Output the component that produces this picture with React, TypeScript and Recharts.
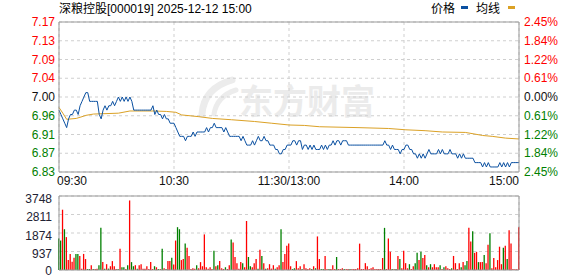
import React from "react";
import {
  ComposedChart,
  Line,
  Bar,
  XAxis,
  YAxis,
  CartesianGrid,
  Cell,
  ReferenceLine,
} from "recharts";

const FONT = "'Liberation Sans', Arial, 'Noto Sans CJK SC', sans-serif";

const title = "深粮控股[000019] 2025-12-12 15:00";
const legendNames = ["价格", "均线"];
const watermarkText = "东方财富";

const timeTicks = [0, 60, 120, 180, 240];
const timeLabels = ["09:30", "10:30", "11:30/13:00", "14:00", "15:00"];

const priceTicks = [7.1715, 7.128625, 7.08575, 7.042875, 7.0, 6.957125, 6.91425, 6.871375, 6.8285];
const priceLabels = ["7.17", "7.13", "7.09", "7.04", "7.00", "6.96", "6.91", "6.87", "6.83"];
const pctLabels = ["2.45%", "1.84%", "1.22%", "0.61%", "0.00%", "0.61%", "1.22%", "1.84%", "2.45%"];
const volTicks = [0, 937, 1874, 2811, 3748];
const volLabels = ["0", "937", "1874", "2811", "3748"];

// price per minute, 09:30 - 10:30 (61 points)
const prices0930 = [
  6.97, 6.96, 6.95, 6.94, 6.93, 6.95, 6.96, 6.96, 6.97, 6.97,
  6.96, 6.98, 6.99, 7.0, 7.01, 7.01, 6.99, 6.99, 6.99, 6.99,
  6.99, 6.96, 6.95, 6.97, 6.98, 6.97, 6.98, 6.98, 6.99, 6.98,
  6.99, 7.0, 6.99, 7.0, 6.99, 7.0, 6.99, 7.0, 6.99, 6.97,
  6.97, 6.97, 6.97, 6.97, 6.97, 6.97, 6.97, 6.97, 6.97, 6.98,
  6.96, 6.97, 6.96, 6.96, 6.95, 6.96, 6.95, 6.95, 6.94, 6.94,
  6.94,
];
// 10:31 - 11:30
const prices1030 = [
  6.93, 6.92, 6.91, 6.91, 6.91, 6.9, 6.91, 6.91, 6.91, 6.92,
  6.91, 6.92, 6.92, 6.92, 6.92, 6.92, 6.93, 6.92, 6.93, 6.93,
  6.94, 6.93, 6.93, 6.93, 6.93, 6.92, 6.93, 6.92, 6.91, 6.91,
  6.91, 6.91, 6.91, 6.91, 6.9, 6.91, 6.9, 6.89, 6.89, 6.89,
  6.9, 6.89, 6.9, 6.91, 6.9, 6.9, 6.91, 6.9, 6.9, 6.89,
  6.89, 6.89, 6.88, 6.88, 6.87, 6.87, 6.88, 6.88, 6.89, 6.89,
];
// 13:01 - 14:00
const prices1300 = [
  6.89, 6.9, 6.9, 6.89, 6.9, 6.9, 6.88, 6.89, 6.89, 6.88,
  6.89, 6.88, 6.89, 6.88, 6.88, 6.88, 6.89, 6.88, 6.89, 6.88,
  6.89, 6.89, 6.9, 6.89, 6.9, 6.9, 6.89, 6.9, 6.9, 6.9,
  6.89, 6.89, 6.89, 6.89, 6.89, 6.89, 6.89, 6.89, 6.89, 6.89,
  6.89, 6.89, 6.89, 6.89, 6.89, 6.89, 6.89, 6.89, 6.89, 6.9,
  6.89, 6.89, 6.88, 6.89, 6.88, 6.88, 6.88, 6.87, 6.88, 6.88,
];
// 14:01 - 15:00
const prices1400 = [
  6.89, 6.89, 6.88, 6.88, 6.87, 6.87, 6.86, 6.87, 6.86, 6.87,
  6.86, 6.87, 6.88, 6.87, 6.87, 6.87, 6.87, 6.88, 6.87, 6.88,
  6.87, 6.87, 6.87, 6.88, 6.87, 6.87, 6.87, 6.86, 6.87, 6.86,
  6.87, 6.86, 6.86, 6.86, 6.86, 6.86, 6.85, 6.85, 6.85, 6.85,
  6.84, 6.85, 6.84, 6.85, 6.84, 6.84, 6.84, 6.84, 6.84, 6.85,
  6.84, 6.85, 6.84, 6.85, 6.84, 6.85, 6.85, 6.85, 6.85, 6.85,
];

// average line, read at selected minutes
const avgMinutes = [0, 2, 4, 9, 12, 14, 18, 31, 37, 49, 56, 61, 64, 73, 80, 90, 102, 111, 120, 128, 136, 156, 172, 181, 191, 200, 212, 216, 221, 226, 233, 240];
const avgValues = [6.976, 6.963, 6.949, 6.951, 6.955, 6.958, 6.961, 6.963, 6.968, 6.968, 6.967, 6.965, 6.959, 6.955, 6.951, 6.948, 6.944, 6.94, 6.936, 6.935, 6.932, 6.93, 6.928, 6.925, 6.923, 6.92, 6.919, 6.916, 6.912, 6.91, 6.906, 6.904];

// volume per minute (lots)
const volumesAM = [
  1596, 1492, 3054, 2065, 1666, 503, 815, 416, 625, 815,
  815, 711, 69, 815, 555, 52, 52, 243, 52, 52,
  69, 243, 2134, 399, 69, 295, 69, 191, 451, 191,
  52, 52, 1075, 139, 139, 52, 243, 3522, 399, 191,
  243, 69, 243, 295, 69, 69, 191, 52, 399, 52,
  191, 139, 52, 52, 1075, 87, 52, 451, 451, 625,
  278, 1492, 2169, 2065, 503, 555, 1336, 1128, 711, 52,
  87, 69, 243, 87, 399, 191, 1804, 139, 69, 139,
  52, 972, 191, 243, 451, 87, 52, 139, 52, 243,
  1544, 1388, 659, 347, 69, 399, 347, 139, 2481, 659,
  191, 139, 347, 555, 69, 1024, 711, 347, 69, 87,
  295, 69, 243, 69, 139, 243, 2065, 399, 815, 1232,
  1336,
];
const volumesPM = [
  191, 52, 87, 451, 87, 191, 52, 295, 87, 52,
  87, 52, 191, 87, 1700, 555, 52, 52, 711, 52,
  52, 52, 243, 52, 659, 52, 52, 87, 52, 52,
  52, 52, 52, 52, 52, 87, 1336, 52, 52, 347,
  191, 52, 87, 139, 52, 52, 52, 52, 607, 2134,
  52, 1596, 920, 52, 52, 52, 711, 555, 87, 972,
  347, 87, 295, 52, 191, 347, 868, 503, 920, 607,
  763, 243, 139, 295, 139, 295, 139, 139, 243, 52,
  139, 191, 87, 52, 87, 711, 347, 52, 347, 139,
  399, 243, 451, 2134, 1440, 1960, 868, 920, 399, 399,
  399, 763, 347, 1284, 1856, 87, 607, 139, 503, 1180,
  295, 1128, 1232, 555, 2013, 1336, 52, 35, 35, 2169,
];
// r = up (red), g = down (green)
const volDirAM =
  "ggrgrrrrrg" + "grrrrggrgr" + "rggrgrgrrr" + "rgrggrgrgg" + "rgrrrrrrrr" +
  "grgrgrgrrg" + "rrggrrgrrr" + "rrgrrrrrrr" + "rgrgrrrgrr" + "grrrrrgrrg" +
  "grrrgrgrgr" + "rrrgrrgrrr" + "r";
const volDirPM =
  "rggrrrgrrr" + "rgrgrrggrr" + "grrrgrrrgr" + "rgrrrrrrrr" + "rrrrrrrrrg" +
  "rrrgrgrgrr" + "rrgrrggrgr" + "rgrgrrrrgr" + "grrrgrrrrg" + "rggrrgrrgr" +
  "rgrrgrrrrr" + "rgrgrrrrrr";

const prices = [...prices0930, ...prices1030, ...prices1300, ...prices1400];
const volumes = [...volumesAM, ...volumesPM];
const volDir = (volDirAM + volDirPM).split("");

const rows = prices.map((p, i) => {
  const k = avgMinutes.indexOf(i);
  return {
    t: i,
    price: p,
    avg: k >= 0 ? avgValues[k] : null,
    vol: volumes[i] ?? 0,
    up: volDir[i] !== "g",
  };
});

const RED = "#ff0000";
const GREEN = "#008000";
const DARK = "#111111";
const PRICE_COLOR = "#0a50a1";
const AVG_COLOR = "#dba125";
const BORDER = "#999999";
const GRID = "#cfcfcf";

const nearestIndex = (arr: number[], v: number) => {
  let best = 0;
  for (let i = 1; i < arr.length; i++) {
    if (Math.abs(arr[i] - v) < Math.abs(arr[best] - v)) best = i;
  }
  return best;
};

const tickColor = (idx: number) => (idx < 4 ? RED : idx === 4 ? DARK : GREEN);

const renderPriceTick = (p: any) => {
  const idx = nearestIndex(priceTicks, p.payload.value);
  return (
    <text x={p.x} y={p.y} dy={4.2} textAnchor="end" fill={tickColor(idx)} fontSize={12} fontFamily={FONT}>
      {priceLabels[idx]}
    </text>
  );
};

const renderPctTick = (p: any) => {
  const idx = nearestIndex(priceTicks, p.payload.value);
  return (
    <text x={p.x} y={p.y} dy={4.2} textAnchor="start" fill={tickColor(idx)} fontSize={12} fontFamily={FONT}>
      {pctLabels[idx]}
    </text>
  );
};

const renderTimeTick = (p: any) => {
  const idx = nearestIndex(timeTicks, p.payload.value);
  const anchor = idx === 0 ? "start" : idx === timeTicks.length - 1 ? "end" : "middle";
  const dx = idx === 0 ? -2 : 0;
  return (
    <text x={p.x + dx} y={p.y} dy={13} textAnchor={anchor} fill={DARK} fontSize={12} fontFamily={FONT}>
      {timeLabels[idx]}
    </text>
  );
};

const renderVolTick = (p: any) => {
  const idx = nearestIndex(volTicks, p.payload.value);
  return (
    <text x={p.x} y={p.y} dy={idx === 0 ? 4.5 : 6.5} textAnchor="end" fill="#222233" fontSize={12} fontFamily={FONT}>
      {volLabels[idx]}
    </text>
  );
};

export default function App() {
  return (
    <div
      style={{
        position: "absolute",
        left: 0,
        top: 0,
        width: 578,
        height: 276,
        background: "#ffffff",
        overflow: "hidden",
      }}
    >
      {/* watermark */}
      <svg width={578} height={276} style={{ position: "absolute", left: 0, top: 0, zIndex: 0 }}>
        <g fill="none" stroke="#ececec" strokeLinecap="round">
          <path d="M202 114 Q204 88 232 80" strokeWidth={7} />
          <path d="M214 114 Q217 96 236 90" strokeWidth={5} />
        </g>
        <text x={239} y={114} fill="#ebebeb" fontSize={34} fontWeight="bold" fontFamily="'Noto Sans CJK SC', sans-serif">
          {watermarkText}
        </text>
      </svg>

      {/* price chart */}
      <div style={{ position: "absolute", left: 0, top: 0, zIndex: 1 }}>
        <ComposedChart width={578} height={190} data={rows} margin={{ top: 22, right: 0, bottom: 0, left: 0 }}>
          <CartesianGrid yAxisId="l" stroke={GRID} strokeDasharray="3 3" />
          <XAxis
            dataKey="t"
            type="number"
            domain={[0, 240]}
            ticks={timeTicks}
            interval={0}
            height={18}
            tickLine={false}
            tickSize={0}
            tickMargin={0}
            axisLine={{ stroke: BORDER }}
            tick={renderTimeTick}
          />
          <YAxis
            yAxisId="l"
            width={59}
            domain={[priceTicks[8], priceTicks[0]]}
            ticks={priceTicks}
            interval={0}
            allowDataOverflow
            tickLine={false}
            tickSize={0}
            tickMargin={4}
            axisLine={{ stroke: BORDER }}
            tick={renderPriceTick}
          />
          <YAxis
            yAxisId="r"
            orientation="right"
            width={59}
            domain={[priceTicks[8], priceTicks[0]]}
            ticks={priceTicks}
            interval={0}
            allowDataOverflow
            tickLine={false}
            tickSize={0}
            tickMargin={5}
            axisLine={{ stroke: BORDER }}
            tick={renderPctTick}
          />
          <ReferenceLine yAxisId="l" y={priceTicks[0]} stroke={BORDER} />
          <Line
            yAxisId="l"
            dataKey="avg"
            stroke={AVG_COLOR}
            strokeWidth={1}
            dot={false}
            connectNulls
            isAnimationActive={false}
          />
          <Line
            yAxisId="l"
            dataKey="price"
            stroke={PRICE_COLOR}
            strokeWidth={1}
            dot={false}
            isAnimationActive={false}
          />
        </ComposedChart>
      </div>

      {/* volume chart */}
      <div style={{ position: "absolute", left: 0, top: 190, zIndex: 1 }}>
        <ComposedChart width={578} height={86} data={rows} margin={{ top: 6, right: 0, bottom: 5, left: 0 }}>
          <CartesianGrid yAxisId="v" stroke={GRID} strokeDasharray="3 3" />
          <XAxis
            dataKey="t"
            type="number"
            domain={[0, 240]}
            ticks={timeTicks}
            interval={0}
            height={1}
            tick={false}
            tickLine={false}
            axisLine={{ stroke: BORDER }}
          />
          <YAxis
            yAxisId="v"
            width={59}
            domain={[0, 3748]}
            ticks={volTicks}
            interval={0}
            allowDataOverflow
            tickLine={false}
            tickSize={0}
            tickMargin={7}
            axisLine={{ stroke: BORDER }}
            tick={renderVolTick}
          />
          <YAxis
            yAxisId="vr"
            orientation="right"
            width={59}
            domain={[0, 3748]}
            tick={false}
            tickLine={false}
            axisLine={{ stroke: BORDER }}
          />
          <ReferenceLine yAxisId="v" y={3748} stroke={BORDER} />
          <Bar yAxisId="v" dataKey="vol" barSize={1.3} isAnimationActive={false}>
            {rows.map((r, i) => (
              <Cell key={i} fill={r.up ? RED : GREEN} />
            ))}
          </Bar>
        </ComposedChart>
      </div>

      {/* title & legend */}
      <svg width={578} height={20} style={{ position: "absolute", left: 0, top: 0, zIndex: 2 }}>
        <text x={59} y={12.5} fontSize={12} fill="#000" fontFamily={FONT}>
          {title}
        </text>
        <text x={431} y={13} fontSize={12} fill="#000" fontFamily={FONT}>
          {legendNames[0]}
        </text>
        <rect x={461} y={6} width={7} height={3} fill={PRICE_COLOR} />
        <text x={476} y={13} fontSize={12} fill="#000" fontFamily={FONT}>
          {legendNames[1]}
        </text>
        <rect x={508} y={6} width={7} height={3} fill={AVG_COLOR} />
      </svg>
    </div>
  );
}
